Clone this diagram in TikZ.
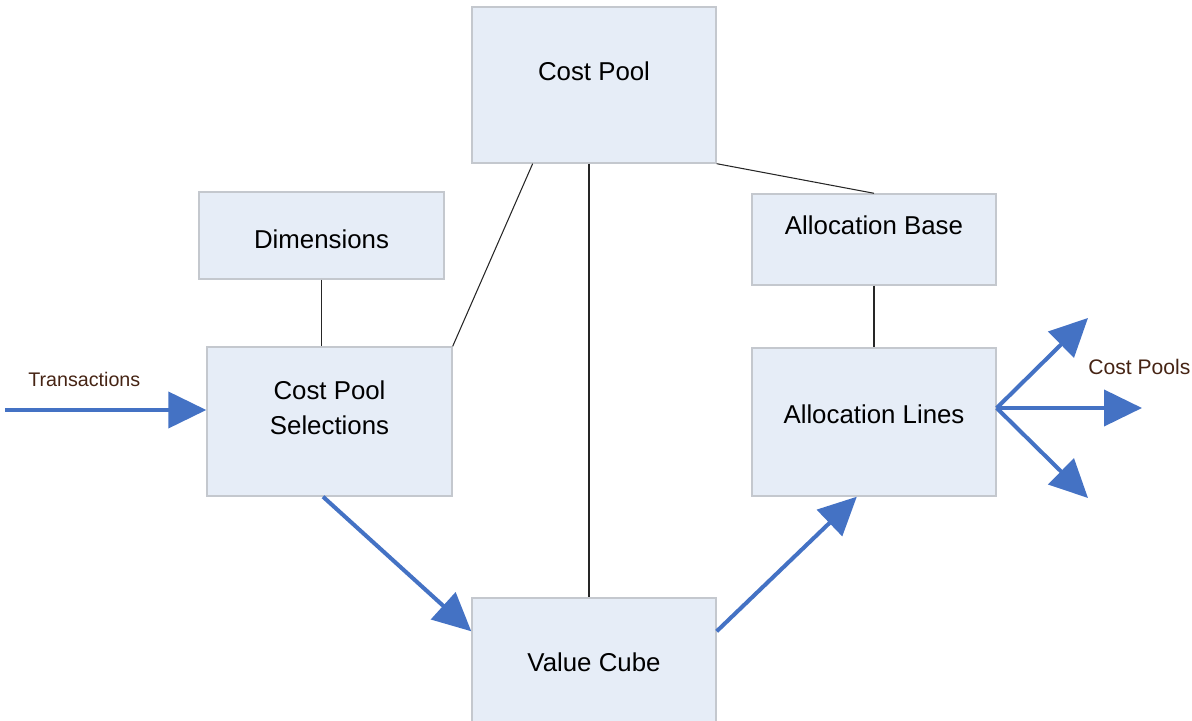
\documentclass[tikz,border=0pt]{standalone}
\usepackage{fontspec}
\setmainfont{Liberation Sans}
\usepackage{tikz}
\usetikzlibrary{arrows.meta,calc}

\begin{document}
\begin{tikzpicture}[
  box/.style={draw=boxline, fill=boxfill, line width=0.8pt, minimum width=4.88cm},
  txt/.style={font=\fontsize{14.7pt}{19.9pt}\selectfont, align=center, inner sep=0pt},
  small/.style={font=\fontsize{11.2pt}{13pt}\selectfont, text=labelbrown, inner sep=0pt},
  link/.style={line width=0.6pt, color=black!85},
  flow/.style={line width=2.3pt, color=flowblue, -{Triangle[length=0.76cm,width=0.72cm]}}
]
\definecolor{boxfill}{RGB}{230,237,247}
\definecolor{boxline}{RGB}{196,200,206}
\definecolor{flowblue}{RGB}{68,114,196}
\definecolor{labelbrown}{RGB}{70,36,20}
\useasboundingbox (0,0) rectangle (23.84,14.4);
\node[box, minimum height=3.12cm] (pool) at (11.88,12.70) {};
\node[txt] (pool-t) at (11.88,12.98) {Cost Pool};
\node[box, minimum width=4.9cm, minimum height=1.74cm] (dim) at (6.43,9.69) {};
\node[txt] (dim-t) at (6.43,9.62) {Dimensions};
\node[box, minimum width=4.9cm, minimum height=2.98cm] (sel) at (6.59,5.97) {};
\node[txt] (sel-t) at (6.59,6.25) {Cost Pool\\Selections};
\node[box, minimum height=1.82cm] (base) at (17.48,9.61) {};
\node[txt] (base-t) at (17.48,9.90) {Allocation Base};
\node[box, minimum height=2.96cm] (lines) at (17.48,5.96) {};
\node[txt] (lines-t) at (17.48,6.12) {Allocation Lines};
\node[box, minimum height=3.12cm] (cube) at (11.88,0.88) {};
\node[txt] (cube-t) at (11.88,1.16) {Value Cube};
\draw[link] (dim.south) -- (dim.south |- sel.north);
\draw[link] ($(pool.south west)!0.25!(pool.south east)$) -- (sel.north east);
\draw[link] ([xshift=-0.1cm]pool.south) -- ([xshift=-0.1cm]cube.north);
\draw[link] (pool.south east) -- (base.north);
\draw[link] (base.south) -- (lines.north);
\coordinate (src) at (0.1,6.2);
\draw[flow] (src) -- (sel.west |- src);
\draw[flow] ([xshift=-0.13cm]sel.south) -- ([yshift=-0.68cm]cube.north west);
\draw[flow] ([yshift=-0.68cm]cube.north east) -- ($(lines.south west)!0.43!(lines.south east)$);
\coordinate (fan) at ([yshift=0.28cm]lines.east);
\coordinate (out1) at (21.76,8.04);
\coordinate (out2) at (22.84,6.24);
\coordinate (out3) at (21.76,4.44);
\foreach \o in {out1,out2,out3}
  \draw[flow] (fan) -- (\o);
\node[small, anchor=west] (trans) at (0.56,6.82) {Transactions};
\node[small, font=\fontsize{12pt}{14pt}\selectfont, anchor=west] (pools) at (21.76,7.06) {Cost Pools};
\end{tikzpicture}
\end{document}
